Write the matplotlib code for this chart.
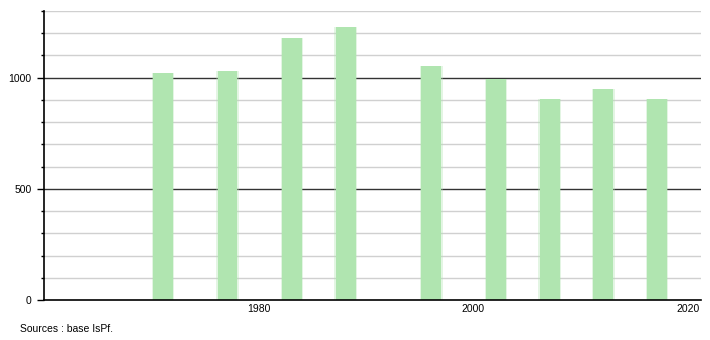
import matplotlib
matplotlib.use("Agg")
import matplotlib.pyplot as plt
import matplotlib.transforms as mtransforms
from matplotlib.ticker import MultipleLocator, FixedLocator

years = [1971, 1977, 1983, 1988, 1996, 2002, 2007, 2012, 2017]
values = [1020, 1029, 1179, 1227, 1053, 995, 903, 950, 903]
y_major = [0, 500, 1000]
x_ticks = [1980, 2000, 2020]
source_text = "Sources : base IsPf."

plt.rcParams['font.family'] = ['Liberation Sans', 'DejaVu Sans']

fig = plt.figure(figsize=(7.1, 3.4), dpi=100)
ax = fig.add_axes([44/710, 1 - 300/340, (701 - 44)/710, (300 - 11)/340])

ax.set_xlim(1960, 2021.2)
ax.set_ylim(0, 1300)

# gridlines
for v in range(100, 1301, 100):
    if v in y_major:
        ax.axhline(v, color='#333333', lw=1.0, zorder=1)
    else:
        ax.axhline(v, color='#d0d0d0', lw=1.0, zorder=1)

bar_color = '#b0e5b0'
w = 1.86
shift = ax.transData + mtransforms.ScaledTranslation(1/100, 0, fig.dpi_scale_trans)
# soft edges
ax.bar(years, values, width=w + 0.25, color=bar_color, alpha=0.35, zorder=2,
       linewidth=0, transform=shift)
ax.bar(years, values, width=w, color=bar_color, zorder=3, linewidth=0,
       transform=shift)

ax.yaxis.set_major_locator(FixedLocator(y_major))
ax.yaxis.set_minor_locator(MultipleLocator(100))
ax.xaxis.set_major_locator(FixedLocator(x_ticks))

for s in ['top', 'right']:
    ax.spines[s].set_visible(False)
ax.spines['left'].set_color('black')
ax.spines['bottom'].set_color('black')
ax.spines['left'].set_linewidth(1.2)
ax.spines['bottom'].set_linewidth(1.2)
ax.spines['bottom'].set_zorder(5)

ax.tick_params(axis='y', which='major', length=5, width=1, direction='out',
               labelsize=7.5, pad=3.8, colors='black')
ax.tick_params(axis='y', which='minor', length=2.5, width=1, direction='out')
ax.tick_params(axis='x', which='major', length=0, labelsize=7.5, pad=3)

fig.text(20/710, 1 - 329/340, source_text, fontsize=7.5, va='center', ha='left')

fig.savefig('out.png', dpi=100)
